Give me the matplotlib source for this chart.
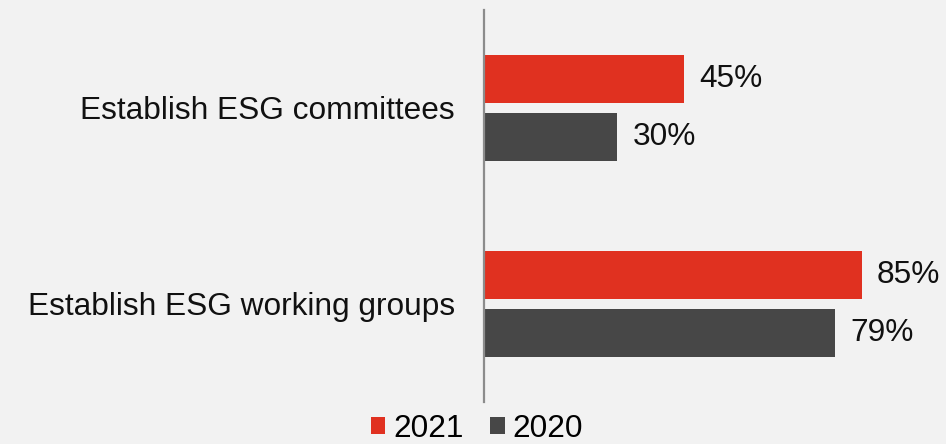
import matplotlib.pyplot as plt
import numpy as np

plt.rcParams['font.family'] = ['Liberation Sans', 'DejaVu Sans']

categories = ['Establish ESG committees', 'Establish ESG working groups']
years = ['2021', '2020']
values_2021 = [45, 85]
values_2020 = [30, 79]

red = '#e03120'
dark = '#474747'
bg = '#f2f2f2'
fs = 22.8

fig = plt.figure(figsize=(9.46, 4.44), dpi=100, facecolor=bg)
ax = fig.add_axes([0.5116, 0.0946, 0.4884, 0.8829])
ax.set_facecolor(bg)

y = np.arange(len(categories))
h = 0.245
off = 0.148

b1 = ax.barh(y - off, values_2021, height=h, color=red, label=years[0])
b2 = ax.barh(y + off, values_2020, height=h, color=dark, label=years[1])

for bars, vals in ((b1, values_2021), (b2, values_2020)):
    for bar, v in zip(bars, vals):
        ax.text(v + 3.4, bar.get_y() + bar.get_height() / 2, f'{v}%',
                va='center', ha='left', fontsize=fs, color='#111111')

ax.set_xlim(0, 104)
ax.set_ylim(1.5, -0.5)
ax.set_yticks(y)
ax.set_yticklabels(categories, fontsize=fs, color='#111111')
ax.tick_params(axis='y', length=0, pad=21)
ax.set_xticks([])

for s in ('top', 'right', 'bottom'):
    ax.spines[s].set_visible(False)
ax.spines['left'].set_color('#8c8c8c')
ax.spines['left'].set_linewidth(1.6)

fig.legend(handles=[b1, b2], labels=years, loc='center',
           bbox_to_anchor=(477 / 946, 1 - 429 / 444), ncol=2, frameon=False,
           fontsize=fs, handlelength=0.45, handleheight=0.45,
           handletextpad=0.25, columnspacing=0.85, borderpad=0)

fig.savefig('out.png', dpi=100, facecolor=bg)
